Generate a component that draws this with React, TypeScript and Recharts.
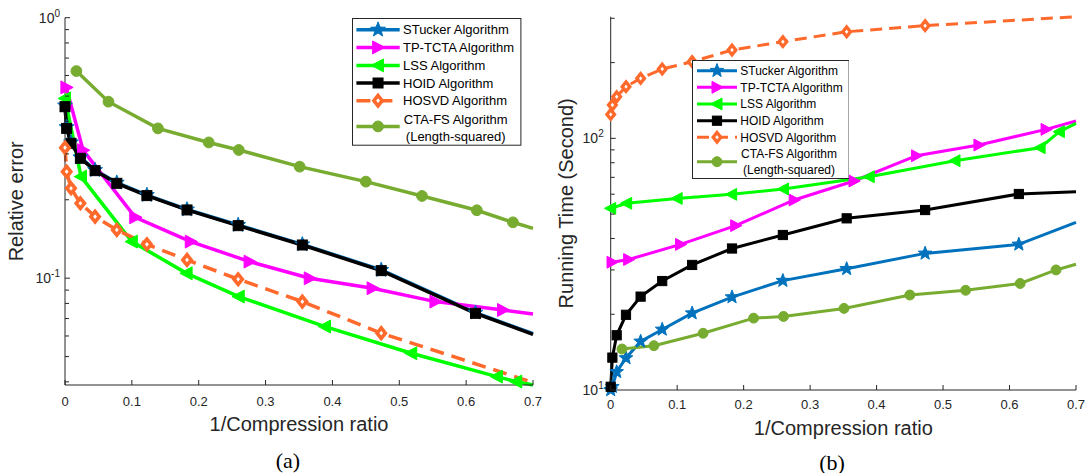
import { LineChart, Line, XAxis, YAxis, Legend, Label } from 'recharts'

// x positions (1/compression ratio); the last entry of each list is where the curve leaves the axes at 0.7
const X_HOID = [0, 0.0025, 0.009, 0.023, 0.045, 0.0775, 0.1225, 0.1825, 0.259, 0.355, 0.473, 0.614, 0.7]
const X_HOSVD = [0, 0.0025, 0.009, 0.023, 0.045, 0.0775, 0.1225, 0.1825, 0.259, 0.355, 0.473, 0.7]
const X_TPTCTA = [0.002, 0.027, 0.105, 0.188, 0.276, 0.366, 0.46, 0.554, 0.655, 0.7]
const X_LSS = [0, 0.024, 0.1, 0.182, 0.26, 0.389, 0.518, 0.646, 0.675, 0.7]
const X_CTAFS = [0.017, 0.065, 0.139, 0.215, 0.26, 0.351, 0.45, 0.534, 0.616, 0.67, 0.7]

// (a) relative error
const ERR_STUCKER = [0.46, 0.38, 0.332, 0.291, 0.26, 0.2325, 0.2085, 0.1835, 0.16, 0.1348, 0.1075, 0.0737, 0.0612]
const ERR_TPTCTA = [0.54, 0.31, 0.1713, 0.1382, 0.1158, 0.0999, 0.0915, 0.0813, 0.0755, 0.0729]
const ERR_LSS = [0.49, 0.2454, 0.1382, 0.1044, 0.085, 0.0652, 0.0515, 0.0419, 0.0401, 0.0389]
const ERR_HOID = [0.4554, 0.376, 0.3295, 0.2886, 0.2587, 0.2313, 0.2075, 0.1828, 0.1591, 0.1341, 0.1069, 0.0733, 0.0609]
const ERR_HOSVD = [0.317, 0.2565, 0.2214, 0.1939, 0.1723, 0.1532, 0.1349, 0.1175, 0.0991, 0.0813, 0.0615, 0.0398]
const ERR_CTAFS = [0.624, 0.476, 0.376, 0.332, 0.3106, 0.268, 0.2348, 0.2068, 0.1823, 0.1639, 0.1554]

// (b) running time in seconds
const TIME_STUCKER = [10.0, 10.3, 11.8, 13.4, 15.6, 17.4, 20.2, 23.4, 27.2, 30.3, 34.9, 37.9, 46.4]
const TIME_TPTCTA = [32.2, 33.0, 37.9, 45.0, 56.9, 67.7, 85.3, 94.1, 108.6, 117.2]
const TIME_LSS = [52.7, 55.2, 57.7, 59.9, 62.9, 70.4, 81.5, 91.8, 106.3, 114.7]
const TIME_HOID = [10.3, 13.45, 16.5, 19.9, 23.5, 27.1, 31.4, 36.5, 41.3, 48.1, 51.9, 60.1, 61.4]
const TIME_HOSVD = [124.5, 135.7, 146.4, 160.5, 173.1, 188.6, 201.7, 224.4, 242.2, 265.3, 280.4, 304.4]
const TIME_CTAFS = [14.55, 15.0, 16.8, 19.3, 19.6, 21.1, 23.85, 24.9, 26.5, 30.0, 31.6]

const X_TICKS = [0, 0.1, 0.2, 0.3, 0.4, 0.5, 0.6, 0.7]
const X_TICK_LABELS = ['0', '0.1', '0.2', '0.3', '0.4', '0.5', '0.6', '0.7']

const ERR_DOMAIN = [0.0389, 1]
const ERR_TICKS = [0.04, 0.05, 0.06, 0.07, 0.08, 0.09, 0.1, 0.2, 0.3, 0.4, 0.5, 0.6, 0.7, 0.8, 0.9, 1]
const ERR_MAJOR = [0.1, 1]
const ERR_EXPONENTS = ['-1', '0']

const TIME_DOMAIN = [10, 304.4]
const TIME_TICKS = [10, 20, 30, 40, 50, 60, 70, 80, 90, 100, 200, 300]
const TIME_MAJOR = [10, 100]
const TIME_EXPONENTS = ['1', '2']

const NAMES = ['STucker Algorithm', 'TP-TCTA Algorithm', 'LSS Algorithm', 'HOID Algorithm', 'HOSVD Algorithm', 'CTA-FS Algorithm']
const CTA_SUB = '(Length-squared)'

const AXIS = '#262626'
const SANS = '"Liberation Sans", Arial, Helvetica, sans-serif'
const SERIF = '"Liberation Serif", "Times New Roman", serif'

type Shape = 'star' | 'right' | 'left' | 'square' | 'diamond' | 'circle'

interface Series {
    name: string
    sub?: string
    xs: number[]
    ys: number[]
    color: string
    shape: Shape
    dashed?: boolean
}

const STYLES: { color: string; shape: Shape; dashed?: boolean }[] = [
    { color: '#0072BD', shape: 'star' },
    { color: '#FF00FF', shape: 'right' },
    { color: '#00FF00', shape: 'left' },
    { color: '#000000', shape: 'square' },
    { color: '#FF6A2C', shape: 'diamond', dashed: true },
    { color: '#77AC30', shape: 'circle' },
]

function buildSeries(xsList: number[][], ysList: number[][]): Series[] {
    return NAMES.map((name, i) => ({
        name,
        sub: i === 5 ? CTA_SUB : undefined,
        xs: xsList[i],
        ys: ysList[i],
        ...STYLES[i],
    }))
}

const ERR_SERIES = buildSeries(
    [X_HOID, X_TPTCTA, X_LSS, X_HOID, X_HOSVD, X_CTAFS],
    [ERR_STUCKER, ERR_TPTCTA, ERR_LSS, ERR_HOID, ERR_HOSVD, ERR_CTAFS],
)
const TIME_SERIES = buildSeries(
    [X_HOID, X_TPTCTA, X_LSS, X_HOID, X_HOSVD, X_CTAFS],
    [TIME_STUCKER, TIME_TPTCTA, TIME_LSS, TIME_HOID, TIME_HOSVD, TIME_CTAFS],
)

function Marker({ shape, cx, cy, color, size }: { shape: Shape; cx: number; cy: number; color: string; size: number }) {
    if (shape === 'star') {
        const pts: string[] = []
        for (let i = 0; i < 10; i++) {
            const r = i % 2 === 0 ? 7.8 * size : 7.8 * size * 0.42
            const a = ((-90 + i * 36) * Math.PI) / 180
            pts.push(`${cx + r * Math.cos(a)},${cy + r * Math.sin(a)}`)
        }
        return <polygon points={pts.join(' ')} fill={color} stroke={color} strokeWidth={1} />
    }
    if (shape === 'right' || shape === 'left') {
        const r = 6.8 * size
        const d = shape === 'right' ? 1 : -1
        const pts = `${cx + d * r},${cy} ${cx - d * r * 0.8},${cy - r * 0.95} ${cx - d * r * 0.8},${cy + r * 0.95}`
        return <polygon points={pts} fill={color} stroke={color} strokeWidth={1} strokeLinejoin="round" />
    }
    if (shape === 'square') {
        const h = 5 * size
        return <rect x={cx - h} y={cy - h} width={2 * h} height={2 * h} fill={color} stroke={color} strokeWidth={1} />
    }
    if (shape === 'diamond') {
        const h = 5.2 * size
        const pts = `${cx},${cy - h} ${cx + h * 0.8},${cy} ${cx},${cy + h} ${cx - h * 0.8},${cy}`
        return <polygon points={pts} fill="#ffffff" stroke={color} strokeWidth={3.6 * size} strokeLinejoin="miter" />
    }
    return <circle cx={cx} cy={cy} r={5.4 * size} fill={color} stroke={color} strokeWidth={1} />
}

interface LegendCfg {
    x: number
    y: number
    w: number
    h: number
    rows: number[]
    ctaY: number
    ctaLines: number[]
    sampleX: number[]
    textX: number
    subCenterX: number
    fontSize: number
}

interface PanelCfg {
    width: number
    height: number
    pageLeft: number
    plot: { left: number; top: number; right: number; bottom: number }
    domain: number[]
    ticks: number[]
    major: number[]
    exponents: string[]
    yTitle: string
    caption: string
    captionX: number
    tickDy: number
    titleDy: number
    captionDy: number
    yTitleX: number
    yGap: number
    lineWidth: number
    markerSize: number
    dash: string
    legend: LegendCfg
}

const X_AXIS_H = 40

function LegendBox({ series, cfg, lineWidth, size, dash }: { series: Series[]; cfg: LegendCfg; lineWidth: number; size: number; dash: string }) {
    const [sx0, sx1] = cfg.sampleX
    const mx = (sx0 + sx1) / 2
    return (
        <svg width={cfg.w} height={cfg.h} style={{ display: 'block' }}>
            <rect x={0.5} y={0.5} width={cfg.w - 1} height={cfg.h - 1} fill="#ffffff" stroke={AXIS} strokeWidth={1} />
            {series.map((s, i) => {
                const y = s.sub ? cfg.ctaY : cfg.rows[i]
                return (
                    <g key={s.name}>
                        <line
                            x1={sx0}
                            x2={sx1}
                            y1={y}
                            y2={y}
                            stroke={s.color}
                            strokeWidth={lineWidth}
                            strokeDasharray={s.dashed ? dash : undefined}
                        />
                        <Marker shape={s.shape} cx={mx} cy={y} color={s.color} size={size} />
                        {s.sub ? (
                            <text fontFamily={SANS} fontSize={cfg.fontSize} fill="#000" textAnchor="middle">
                                <tspan x={cfg.subCenterX} y={cfg.ctaLines[0] + cfg.fontSize * 0.36}>{s.name}</tspan>
                                <tspan x={cfg.subCenterX} y={cfg.ctaLines[1] + cfg.fontSize * 0.36}>{s.sub}</tspan>
                            </text>
                        ) : (
                            <text x={cfg.textX} y={y + cfg.fontSize * 0.36} fontFamily={SANS} fontSize={cfg.fontSize} fill="#000">
                                {s.name}
                            </text>
                        )}
                    </g>
                )
            })}
        </svg>
    )
}

function Panel({ series, cfg }: { series: Series[]; cfg: PanelCfg }) {
    const { plot } = cfg
    const midX = (plot.left + plot.right) / 2
    const midY = (plot.top + plot.bottom) / 2

    const bottomTick = (props: any) => {
        const { x, y, payload } = props
        const label = X_TICK_LABELS[X_TICKS.indexOf(payload.value)]
        return (
            <g>
                <line x1={x} x2={x} y1={y} y2={y - 5} stroke={AXIS} />
                <text x={x} y={y + cfg.tickDy} textAnchor="middle" fontFamily={SANS} fontSize={13} fill={AXIS}>
                    {label}
                </text>
            </g>
        )
    }
    const topTick = (props: any) => <line x1={props.x} x2={props.x} y1={props.y} y2={props.y + 5} stroke={AXIS} />

    const leftTick = (props: any) => {
        const { x, y, payload } = props
        const mi = cfg.major.indexOf(payload.value)
        return (
            <g>
                <line x1={x} x2={x + (mi >= 0 ? 5 : 4)} y1={y} y2={y} stroke={AXIS} />
                {mi >= 0 && (
                    <text x={x - cfg.yGap} y={y + 5} textAnchor="end" fontFamily={SANS} fontSize={14} fill={AXIS}>
                        10
                        <tspan dy={-6} fontSize={10}>{cfg.exponents[mi]}</tspan>
                    </text>
                )}
            </g>
        )
    }
    const rightTick = (props: any) => {
        const mi = cfg.major.indexOf(props.payload.value)
        return <line x1={props.x} x2={props.x - (mi >= 0 ? 5 : 4)} y1={props.y} y2={props.y} stroke={AXIS} />
    }

    const renderDot = (s: Series, size: number) => (props: any) => {
        const { cx, cy, index } = props
        const k = `${s.name}-${index}`
        if (index === s.xs.length - 1 || cx == null || cy == null) return <g key={k} />
        return (
            <g key={k}>
                <Marker shape={s.shape} cx={cx} cy={cy} color={s.color} size={size} />
            </g>
        )
    }

    return (
        <div style={{ position: 'absolute', left: cfg.pageLeft, top: 0 }}>
            <LineChart
                width={cfg.width}
                height={cfg.height}
                margin={{
                    top: plot.top,
                    right: cfg.width - plot.right,
                    bottom: cfg.height - plot.bottom - X_AXIS_H,
                    left: 0,
                }}
            >
                <XAxis
                    type="number"
                    dataKey="x"
                    domain={[0, 0.7]}
                    ticks={X_TICKS}
                    interval={0}
                    height={X_AXIS_H}
                    tickLine={false}
                    tickSize={0}
                    tickMargin={0}
                    axisLine={{ stroke: AXIS }}
                    tick={bottomTick}
                >
                    <Label
                        content={() => (
                            <g>
                                <text x={midX} y={plot.bottom + cfg.titleDy} textAnchor="middle" fontFamily={SANS} fontSize={20} fill={AXIS}>
                                    1/Compression ratio
                                </text>
                                <text x={cfg.captionX} y={plot.bottom + cfg.captionDy} textAnchor="middle" fontFamily={SERIF} fontSize={22} fill="#000">
                                    {cfg.caption}
                                </text>
                            </g>
                        )}
                    />
                </XAxis>
                <XAxis
                    xAxisId="top"
                    orientation="top"
                    type="number"
                    dataKey="x"
                    domain={[0, 0.7]}
                    ticks={X_TICKS}
                    interval={0}
                    height={0}
                    tickLine={false}
                    tickSize={0}
                    tickMargin={0}
                    axisLine={{ stroke: AXIS }}
                    tick={topTick}
                />
                <YAxis
                    type="number"
                    scale="log"
                    domain={cfg.domain}
                    ticks={cfg.ticks}
                    interval={0}
                    width={plot.left}
                    tickLine={false}
                    tickSize={0}
                    tickMargin={0}
                    axisLine={{ stroke: AXIS }}
                    tick={leftTick}
                >
                    <Label
                        content={() => (
                            <text
                                x={cfg.yTitleX}
                                y={midY}
                                transform={`rotate(-90 ${cfg.yTitleX} ${midY})`}
                                textAnchor="middle"
                                fontFamily={SANS}
                                fontSize={20}
                                fill={AXIS}
                            >
                                {cfg.yTitle}
                            </text>
                        )}
                    />
                </YAxis>
                <YAxis
                    yAxisId="right"
                    orientation="right"
                    type="number"
                    scale="log"
                    domain={cfg.domain}
                    ticks={cfg.ticks}
                    interval={0}
                    width={0}
                    tickLine={false}
                    tickSize={0}
                    tickMargin={0}
                    axisLine={{ stroke: AXIS }}
                    tick={rightTick}
                />
                {series.map((s) => (
                    <Line
                        key={s.name}
                        name={s.name}
                        data={s.xs.map((x, i) => ({ x, y: s.ys[i] }))}
                        dataKey="y"
                        type="linear"
                        stroke={s.color}
                        strokeWidth={cfg.lineWidth}
                        strokeDasharray={s.dashed ? cfg.dash : undefined}
                        dot={renderDot(s, cfg.markerSize)}
                        activeDot={false}
                        isAnimationActive={false}
                    />
                ))}
                <Legend
                    layout="vertical"
                    align="center"
                    verticalAlign="middle"
                    wrapperStyle={{ left: cfg.legend.x, top: cfg.legend.y, width: cfg.legend.w, height: cfg.legend.h }}
                    content={() => (
                        <LegendBox series={series} cfg={cfg.legend} lineWidth={cfg.lineWidth} size={cfg.markerSize} dash={cfg.dash} />
                    )}
                />
            </LineChart>
        </div>
    )
}

const ERR_PANEL: PanelCfg = {
    width: 552,
    height: 473,
    pageLeft: 0,
    plot: { left: 65, top: 17.7, right: 533, bottom: 385 },
    domain: ERR_DOMAIN,
    ticks: ERR_TICKS,
    major: ERR_MAJOR,
    exponents: ERR_EXPONENTS,
    yTitle: 'Relative error',
    caption: '(a)',
    captionX: 288,
    tickDy: 21,
    titleDy: 46,
    captionDy: 82.6,
    yTitleX: 23.5,
    yGap: 5,
    lineWidth: 3.5,
    markerSize: 1,
    dash: '14 8',
    legend: {
        x: 352.3,
        y: 18.3,
        w: 169.4,
        h: 127.7,
        rows: [11.7, 29.4, 47.4, 65, 82.7],
        ctaY: 108.4,
        ctaLines: [101, 118.4],
        sampleX: [4.4, 47.7],
        textX: 51,
        subCenterX: 103.7,
        fontSize: 13,
    },
}

const TIME_PANEL: PanelCfg = {
    width: 545,
    height: 473,
    pageLeft: 540,
    plot: { left: 70.7, top: 16.7, right: 536, bottom: 390 },
    domain: TIME_DOMAIN,
    ticks: TIME_TICKS,
    major: TIME_MAJOR,
    exponents: TIME_EXPONENTS,
    yTitle: 'Running Time (Second)',
    caption: '(b)',
    captionX: 292,
    tickDy: 19,
    titleDy: 45,
    captionDy: 79.5,
    yTitleX: 33,
    yGap: 7,
    lineWidth: 3,
    markerSize: 0.92,
    dash: '12 7',
    legend: {
        x: 151.7,
        y: 60,
        w: 157.6,
        h: 119,
        rows: [10.7, 27.3, 44, 60.7, 77.3],
        ctaY: 101.7,
        ctaLines: [94, 110],
        sampleX: [5, 45],
        textX: 48.3,
        subCenterX: 97,
        fontSize: 12,
    },
}

export default function App() {
    return (
        <div style={{ position: 'absolute', left: 0, top: 0, width: 1085, height: 473, background: '#ffffff', overflow: 'hidden' }}>
            <Panel series={ERR_SERIES} cfg={ERR_PANEL} />
            <Panel series={TIME_SERIES} cfg={TIME_PANEL} />
        </div>
    )
}
